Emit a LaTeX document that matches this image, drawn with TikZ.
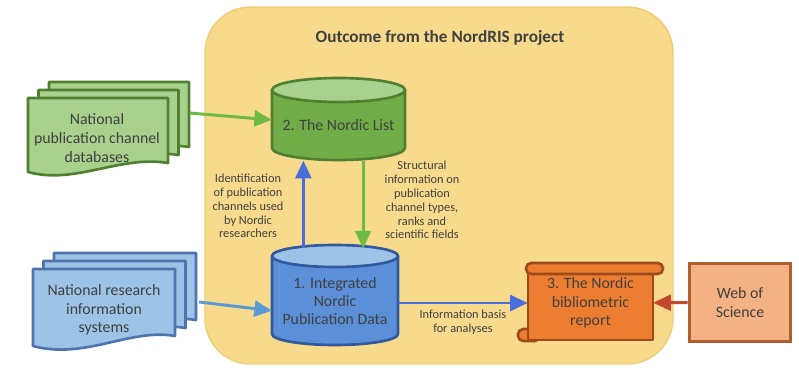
\documentclass[tikz,border=0pt]{standalone}
\usepackage{fontspec}
\setmainfont{Carlito}
\usetikzlibrary{arrows.meta}
\definecolor{boxyellow}{HTML}{F8DA8D}
\definecolor{boxedge}{HTML}{EFCD70}
\definecolor{txtgray}{HTML}{404040}
\definecolor{gbody}{HTML}{70AD47}
\definecolor{gtop}{HTML}{A9D18E}
\definecolor{gline}{HTML}{4F7F30}
\definecolor{garr}{HTML}{6DBB45}
\definecolor{bbody}{HTML}{5B8FD8}
\definecolor{btop}{HTML}{9DC3E6}
\definecolor{bline}{HTML}{2F5A9E}
\definecolor{barr}{HTML}{4A6FDB}
\definecolor{larr}{HTML}{5B9BD5}
\definecolor{oranfill}{HTML}{ED7D31}
\definecolor{oranline}{HTML}{9E4B1C}
\definecolor{wosfill}{HTML}{F4B183}
\definecolor{wosline}{HTML}{B0602C}
\definecolor{rarr}{HTML}{C5472F}
\begin{document}
\begin{tikzpicture}[x=0.02cm,y=-0.02cm,
    doctext/.style={inner sep=0pt,align=center,text=txtgray,font=\fontsize{9}{10.6}\selectfont},
    lbl/.style={align=center,text=txtgray,inner sep=1pt,font=\fontsize{7}{7.9}\selectfont},
    gdoc/.style={fill=gtop,draw=gline,line width=1.5pt,line join=round},
    bdoc/.style={fill=btop,draw=bline!85,line width=1.5pt,line join=round},
    gcyl/.style={fill=gbody,draw=gline,line width=1.5pt},
    bcyl/.style={fill=bbody,draw=bline,line width=1.5pt},
    scroll/.style={fill=oranfill,draw=oranline,line width=1.5pt,line join=round},
    arr/.style={line width=1.7pt,-{Triangle[length=10pt,width=9pt]}}]
  \useasboundingbox (0,0) rectangle (799,368);
  % project area
  \draw[fill=boxyellow,draw=boxedge,line width=0.8pt,rounded corners=26pt] (205,7) rectangle (673,364);
  \node[font=\bfseries\fontsize{9.8}{11}\selectfont,text=txtgray] (title) at (440,38) {Outcome from the NordRIS project};
  % document stacks
  \foreach \d in {21,10.5,0}
    \draw[gdoc,shift={(\d,-0.76*\d)}] (28,98) -- (168,98) -- (168,163) .. controls (120,155) and (75,185) .. (28,172) -- cycle;
  \foreach \d in {21,10.5,0}
    \draw[bdoc,shift={(\d,-0.76*\d)}] (33,269) -- (175,269) -- (175,336) .. controls (130,328) and (85,360) .. (33,346) -- cycle;
  \node[doctext,minimum width=80pt] (pcdb) at (97,138) {National\\publication channel\\databases};
  \node[doctext,minimum width=80.5pt] (nris) at (104,310) {National research\\information\\systems};
  % databases
  \draw[gcyl] (272,90) -- (272,148) arc[start angle=180,end angle=0,x radius=66.5,y radius=12] -- (405,90);
  \draw[gcyl,fill=gtop] (338.5,90) ellipse[x radius=66.5,y radius=12];
  \node[doctext,minimum width=75.4pt,minimum height=39.7pt] (list) at (338.5,125.5) {2. The Nordic List};
  \draw[bcyl] (272,256) -- (272,334) arc[start angle=180,end angle=0,x radius=63,y radius=11] -- (398,256);
  \draw[bcyl,fill=btop] (335,256) ellipse[x radius=63,y radius=11];
  \node[doctext,font=\fontsize{9}{10.4}\selectfont,minimum width=71.4pt,minimum height=50.5pt] (ipd) at (335,301) {1. Integrated\\Nordic\\Publication Data};
  % report and source
  \draw[scroll,rounded corners=3pt] (518,329) rectangle (540,341);
  \draw[scroll] (528,270) rectangle (653,340);
  \draw[scroll,rounded corners=3pt] (526,263) rectangle (663,274);
  \node[doctext,minimum width=71pt,minimum height=40pt] (rep) at (590.5,303) {3. The Nordic\\bibliometric\\report};
  \node[doctext,fill=wosfill,draw=wosline,line width=1.7pt,minimum width=58pt,minimum height=44pt] (wos) at (740,302.5) {Web of\\Science};
  % flows
  \draw[arr,garr] ([shift={(22,-25)}]pcdb.east) -- (list);
  \draw[arr,larr] ([shift={(24,-8)}]nris.east) -- ([yshift=-5.5pt]ipd.west);
  \draw[arr,barr,shorten <=5pt] ([xshift=-18pt]ipd.north) -- ([xshift=-18pt]ipd.north |- list.south);
  \draw[arr,garr,shorten >=4.5pt] ([xshift=14pt]list.south) -- ([xshift=14pt]list.south |- ipd.north);
  \draw[arr,barr] (ipd.east |- rep.west) -- (rep.west) node[midway,below=2pt,lbl] {Information basis\\for analyses};
  \draw[arr,rarr] (wos) -- (rep);
  \node[lbl] (idlbl) at (248,206) {Identification\\of publication\\channels used\\by Nordic\\researchers};
  \node[lbl] (stlbl) at (422,200) {Structural\\information on\\publication\\channel types,\\ranks and\\scientific fields};
\end{tikzpicture}
\end{document}
